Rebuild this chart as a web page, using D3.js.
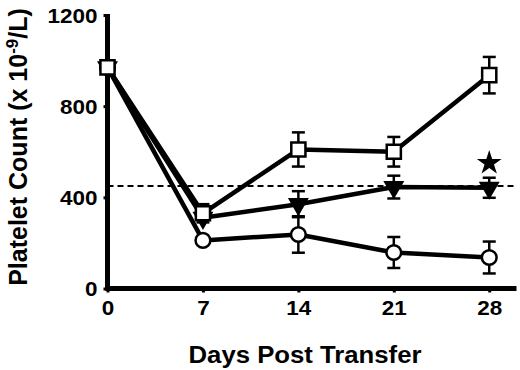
<!DOCTYPE html>
<html>
<head>
<meta charset="utf-8">
<script src="https://cdn.jsdelivr.net/npm/d3@7"></script>
<style>
  body { margin: 0; background: #fff; }
  svg { display: block; font-family: "Liberation Sans", Arial, sans-serif; font-weight: bold; }
</style>
</head>
<body>
<div id="chart"></div>
<script>
// platelet counts after transfer, three groups + normal reference line
const days = [0, 7, 14, 21, 28];

const squareVals = [970, 330, 610, 600, 936];
const squareErr  = [0, 40, 75, 65, 80];

const triangleVals = [970, 310, 370, 445, 442];
const triangleErr  = [0, 0, 57, 50, 44];

const circleVals = [970, 211, 237, 158, 136];
const circleErr  = [0, 0, 80, 68, 70];

const normalLevel = 450;          // dashed line
const starPoint = { day: 28, value: 551 };

const xTicks = [0, 7, 14, 21, 28];
const yTicks = [0, 400, 800, 1200];

const W = 520, H = 370;

const svg = d3.select('#chart').append('svg')
  .attr('width', W)
  .attr('height', H);

const x = d3.scaleLinear().domain([0, 30]).range([107.5, 516.5]);
const y = d3.scaleLinear().domain([0, 1200]).range([288.5, 15]);

// dashed reference line
svg.append('line')
  .attr('x1', x(0)).attr('x2', x(30))
  .attr('y1', y(normalLevel)).attr('y2', y(normalLevel))
  .attr('stroke', '#000')
  .attr('stroke-width', 2)
  .attr('stroke-dasharray', '6,4');

// axes
const yAxis = svg.append('g')
  .attr('transform', `translate(${x(0)},0)`)
  .call(d3.axisLeft(y).tickValues(yTicks).tickFormat(d3.format('d')).tickSize(4).tickPadding(6));
const xAxis = svg.append('g')
  .attr('transform', `translate(0,${y(0)})`)
  .call(d3.axisBottom(x).tickValues(xTicks).tickFormat(d3.format('d')).tickSize(4).tickPadding(8));

[yAxis, xAxis].forEach(ax => {
  ax.select('.domain').remove();
  ax.selectAll('.tick line').attr('stroke', '#000').attr('stroke-width', 3);
  ax.selectAll('.tick text')
    .attr('fill', '#000')
    .style('font-size', '20px')
    .style('font-weight', 'bold')
    .style('font-family', '"Liberation Sans", Arial, sans-serif')
    // glyphs in the original are wider than Arial's
    .attr('textLength', d => String(d).length * 12.5)
    .attr('lengthAdjust', 'spacingAndGlyphs');
});
yAxis.selectAll('.tick text').attr('dy', '0.36em');
xAxis.selectAll('.tick text').attr('dy', '0.72em');

// axis lines drawn thick
svg.append('line')
  .attr('x1', x(0)).attr('x2', x(0))
  .attr('y1', y(0) + 2).attr('y2', y(1200) - 1)
  .attr('stroke', '#000').attr('stroke-width', 5);
svg.append('line')
  .attr('x1', x(0) - 2).attr('x2', x(30))
  .attr('y1', y(0)).attr('y2', y(0))
  .attr('stroke', '#000').attr('stroke-width', 5);

// series, drawn bottom to top (square ends up on top)
const series = [
  { name: 'circle', vals: circleVals, err: circleErr },
  { name: 'triangle', vals: triangleVals, err: triangleErr },
  { name: 'square', vals: squareVals, err: squareErr }
];

const line = d3.line()
  .x((d, i) => x(days[i]))
  .y(d => y(d));

// error bars first
series.forEach(s => {
  const g = svg.append('g').attr('class', 'err-' + s.name);
  s.vals.forEach((v, i) => {
    const e = s.err[i];
    if (!e) return;
    const cx = x(days[i]);
    g.append('line')
      .attr('x1', cx).attr('x2', cx)
      .attr('y1', y(v - e)).attr('y2', y(v + e))
      .attr('stroke', '#000').attr('stroke-width', 2.5);
    [v - e, v + e].forEach(c => {
      g.append('line')
        .attr('x1', cx - 6.5).attr('x2', cx + 6.5)
        .attr('y1', y(c)).attr('y2', y(c))
        .attr('stroke', '#000').attr('stroke-width', 2.5);
    });
  });
});

// connecting lines
series.forEach(s => {
  svg.append('path')
    .datum(s.vals)
    .attr('d', line)
    .attr('fill', 'none')
    .attr('stroke', '#000')
    .attr('stroke-width', 4.5)
    .attr('stroke-linejoin', 'round');
});

// markers
const sym = {
  square: d3.symbol().type(d3.symbolSquare).size(200),
  circle: d3.symbol().type(d3.symbolCircle).size(170),
  triangle: d3.symbol().type(d3.symbolTriangle).size(120)
};

series.forEach(s => {
  svg.append('g').selectAll('path')
    .data(s.vals)
    .join('path')
    .attr('d', sym[s.name])
    .attr('transform', (d, i) => `translate(${x(days[i])},${y(d)})` + (s.name === 'triangle' ? ' rotate(180)' : ''))
    .attr('fill', s.name === 'triangle' ? '#000' : '#fff')
    .attr('stroke', '#000')
    .attr('stroke-width', 2.5);
});

// significance star
svg.append('path')
  .attr('d', d3.symbol().type(d3.symbolStar).size(190))
  .attr('transform', `translate(${x(starPoint.day)},${y(starPoint.value)})`)
  .attr('fill', '#000');

// axis titles
svg.append('text')
  .attr('x', 305).attr('y', 363)
  .attr('text-anchor', 'middle')
  .style('font-size', '23px')
  .attr('textLength', 233)
  .attr('lengthAdjust', 'spacingAndGlyphs')
  .text('Days Post Transfer');

const yLab = svg.append('text')
  .attr('transform', 'translate(27,147) rotate(-90)')
  .attr('text-anchor', 'middle')
  .style('font-size', '25px');
yLab.append('tspan').text('Platelet Count (x 10');
yLab.append('tspan').attr('dy', -9).style('font-size', '17px').text('-9');
yLab.append('tspan').attr('dy', 9).text('/L)');
</script>
</body>
</html>
